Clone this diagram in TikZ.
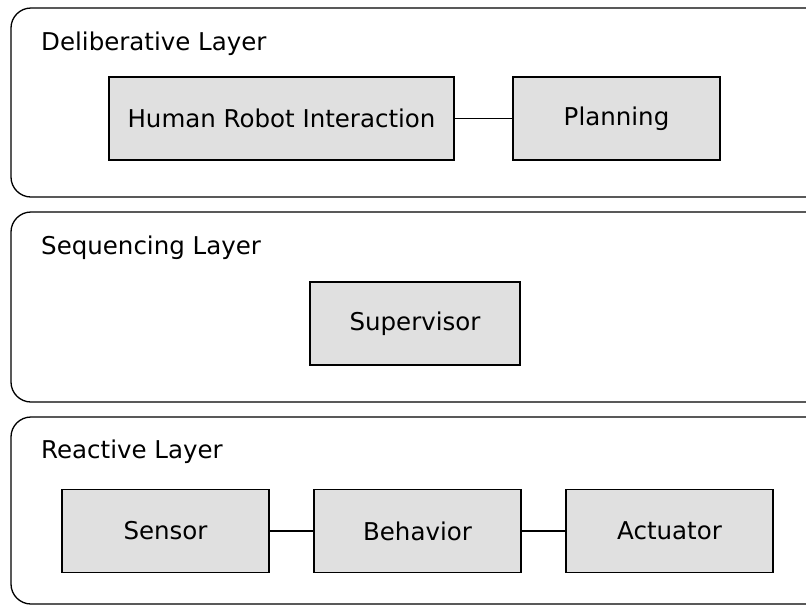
\documentclass[tikz,border=0pt]{standalone}
\usepackage{fontspec}
\setmainfont{DejaVu Sans}
\definecolor{boxgray}{HTML}{E0E0E0}
\begin{document}
\begin{tikzpicture}[x=1pt,y=-1pt,
  layer/.style={draw=black, line width=1.3pt, rounded corners=20pt},
  layertitle/.style={anchor=base west, inner sep=0pt, font=\fontsize{24.5}{29}\selectfont},
  module/.style={draw=black, fill=boxgray, line width=1.3pt, inner sep=0pt,
    minimum height=83pt, font=\fontsize{24.5}{29}\selectfont},
  link/.style={draw=black, line width=1.5pt}]
  \useasboundingbox (0,0) rectangle (806,606);
  \clip (0,0) rectangle (806,606);
  % layer frames (they run past the right edge)
  \draw[layer] (11,8) rectangle (826,197);
  \draw[layer] (11,212) rectangle (826,402);
  \draw[layer] (11,417) rectangle (826,604);
  \node[layertitle] (tdel) at (41,50) {Deliberative Layer};
  \node[layertitle] (tseq) at (41,254) {Sequencing Layer};
  \node[layertitle] (trea) at (41,458) {Reactive Layer};
  % deliberative layer
  \node[module, minimum width=345pt, line width=2pt] (hri) at (281.5,118.5) {Human Robot Interaction};
  \node[module, minimum width=207pt] (plan) at (616.5,118.5) {Planning};
  \draw[link] (hri) -- (plan);
  % sequencing layer
  \node[module, minimum width=210pt] (sup) at (415,323.5) {Supervisor};
  % reactive layer
  \node[module, minimum width=207pt] (sens) at (165.5,531) {Sensor};
  \node[module, minimum width=207pt] (beh) at (417.5,531) {Behavior};
  \node[module, minimum width=207pt] (act) at (669.5,531) {Actuator};
  \draw[link] (sens) -- (beh);
  \draw[link] (beh) -- (act);
\end{tikzpicture}
\end{document}
